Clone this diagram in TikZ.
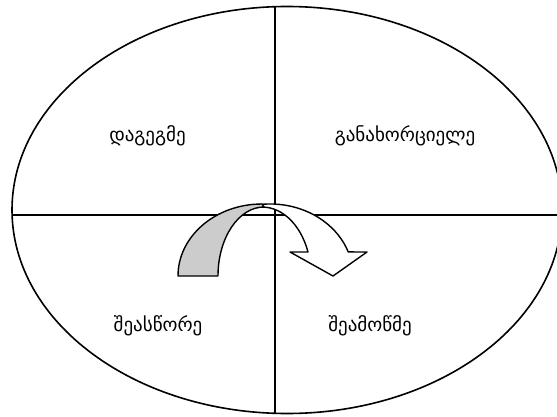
\documentclass[tikz,border=0pt]{standalone}
\usepackage{fontspec}
\newfontfamily\geofont{DejaVu Sans}
\begin{document}
\begin{tikzpicture}[x=1pt, y=1pt, line join=round]
    \tikzset{
        phase/.style={font=\geofont\fontsize{19}{22}\selectfont},
        frame/.style={line width=1.6pt},
        band/.style={line width=1.4pt}
    }
    \useasboundingbox (0,0) rectangle (557,416);
    \clip (0,0) rectangle (557,416);

    \draw[frame] (287,206) ellipse[x radius=275, y radius=203.5];
    \coordinate (top) at (275,410);
    \coordinate (bottom) at (275,3);
    \coordinate (left) at (12,201);
    \coordinate (right) at (562,201);
    \draw[frame] (top) -- (bottom);
    \draw[frame] (left) -- (right);

    % white part of the turning arrow, with its head
    \draw[band, fill=white] (241.6,207.7)
        arc[start angle=110, end angle=19.5, x radius=83, y radius=72]
        -- (367,164) -- (333,140) -- (290,164) -- (308,164)
        arc[start angle=20.4, end angle=95, x radius=49, y radius=69]
        -- cycle;
    % shaded part
    \draw[band, fill=black!20] (178,140)
        arc[start angle=180, end angle=90, x radius=84, y radius=72]
        -- (264,209)
        arc[start angle=90, end angle=180, x radius=46, y radius=69]
        -- cycle;

    \node[phase] (plan) at (147.5,280) {დაგეგმე};
    \node[phase] (do) at (405,280) {განახორციელე};
    \node[phase] (act) at (158,90) {შეასწორე};
    \node[phase] (check) at (370,90) {შეამოწმე};
\end{tikzpicture}
\end{document}
